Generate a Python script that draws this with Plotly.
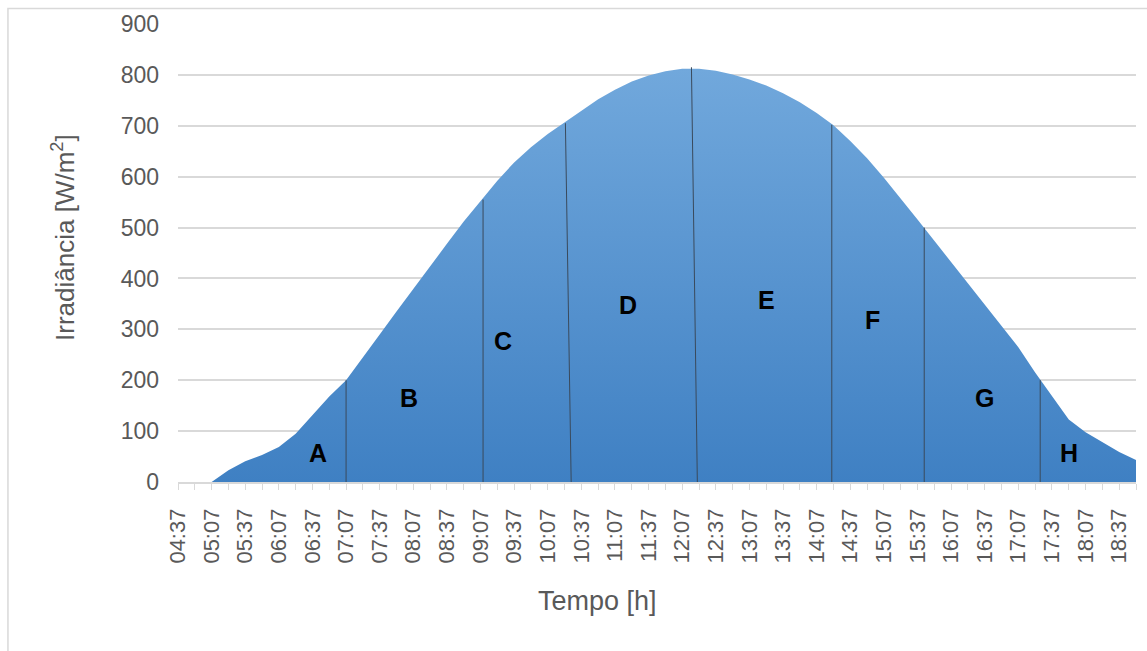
import plotly.graph_objects as go
from datetime import datetime, timedelta

# Time categories: every 15 minutes from 04:37 to 18:52
start = datetime(2000, 1, 1, 4, 37)
times = [(start + timedelta(minutes=15 * k)).strftime("%H:%M") for k in range(58)]

# Irradiance [W/m2] at each time step
irradiance = [
    0, 0, 0, 23, 41, 53, 69, 95, 132, 168,
    200, 244, 290, 335, 380, 425, 468, 512, 553, 592,
    628, 658, 684, 707, 730, 752, 771, 787, 799, 807,
    812, 812, 808, 801, 791, 779, 764, 746, 725, 701,
    670, 636, 598, 558, 516, 474, 432, 390, 349, 307,
    265, 215, 168, 123, 98, 78, 59, 43,
]

# Period dividers: position at top, position at bottom (category index), top value
div_x_top = [10.0, 18.15, 23.05, 30.55, 38.9, 44.4, 51.3]
div_x_bot = [10.0, 18.15, 23.4, 30.9, 38.9, 44.4, 51.3]
div_top = [200, 555, 705, 815, 702, 500, 200]
div_bot = [0, 0, -12, 0, 0, 0, 0]

# Period letters and their positions
period_names = ["A", "B", "C", "D", "E", "F", "G", "H"]
period_x = [8.3, 13.75, 19.35, 26.8, 35.0, 41.3, 48.0, 53.0]
period_y = [57, 166, 278, 348, 358, 319, 166, 57]

y_ticks = [0, 100, 200, 300, 400, 500, 600, 700, 800, 900]

idx = list(range(len(times)))
tick_text = [t if k % 2 == 0 else "" for k, t in enumerate(times)]

FONT = "Liberation Sans, Arial"

fig = go.Figure()
fig.add_trace(go.Scatter(
    x=idx, y=irradiance,
    mode="lines",
    line=dict(width=0, color="#5b9bd5"),
    fill="tozeroy",
    fillgradient=dict(
        type="vertical",
        colorscale=[[0, "#3f80c3"], [1, "#71a8dc"]],
    ),
    hoverinfo="skip",
    showlegend=False,
))

for xt, xb, yt, yb in zip(div_x_top, div_x_bot, div_top, div_bot):
    fig.add_shape(type="line", xref="x", yref="y",
                  x0=xb, y0=yb, x1=xt, y1=yt,
                  line=dict(color="#3a4a5c", width=1))

for name, px, py in zip(period_names, period_x, period_y):
    fig.add_annotation(x=px, y=py, xref="x", yref="y", text=f"<b>{name}</b>",
                       showarrow=False, xanchor="center", yanchor="middle",
                       font=dict(family=FONT, size=25, color="#000000"))

# Axis titles
fig.add_annotation(xref="paper", yref="paper", x=-0.119, y=0.535,
                   xanchor="center", yanchor="middle",
                   text="Irradiância [W/m<sup>2</sup>]", textangle=-90, showarrow=False,
                   font=dict(family=FONT, size=26, color="#595959"))
fig.add_annotation(xref="paper", yref="paper", x=0.438, y=-0.26,
                   xanchor="center", yanchor="middle",
                   text="Tempo [h]", showarrow=False,
                   font=dict(family=FONT, size=27, color="#595959"))

# Chart-area frame
fig.add_shape(type="rect", xref="paper", yref="paper",
              x0=-0.1775, y0=-0.6, x1=1.05, y1=1.0337,
              line=dict(color="#d9d9d9", width=1.5), layer="below")

fig.update_layout(
    width=1147, height=651,
    margin=dict(l=178, r=11, t=22, b=169),
    paper_bgcolor="white", plot_bgcolor="white",
    font=dict(family=FONT, color="#595959"),
    showlegend=False,
)
fig.update_xaxes(
    range=[0, len(times) - 1],
    tickmode="array", tickvals=idx, ticktext=tick_text,
    tickangle=-90,
    tickfont=dict(size=22, color="#595959"),
    ticks="outside", ticklen=6, tickcolor="#d9d9d9", tickwidth=1,
    ticklabelstandoff=10,
    showline=True, linecolor="#d9d9d9", linewidth=1.5,
    showgrid=False, zeroline=False,
)
fig.update_yaxes(
    range=[0, 900],
    tickmode="array", tickvals=y_ticks,
    tickfont=dict(size=23, color="#595959"),
    ticklabelstandoff=18,
    showgrid=True, gridcolor="#d9d9d9", gridwidth=1.5,
    zeroline=False, showline=False, ticks="",
)

fig.write_html("out.html")
